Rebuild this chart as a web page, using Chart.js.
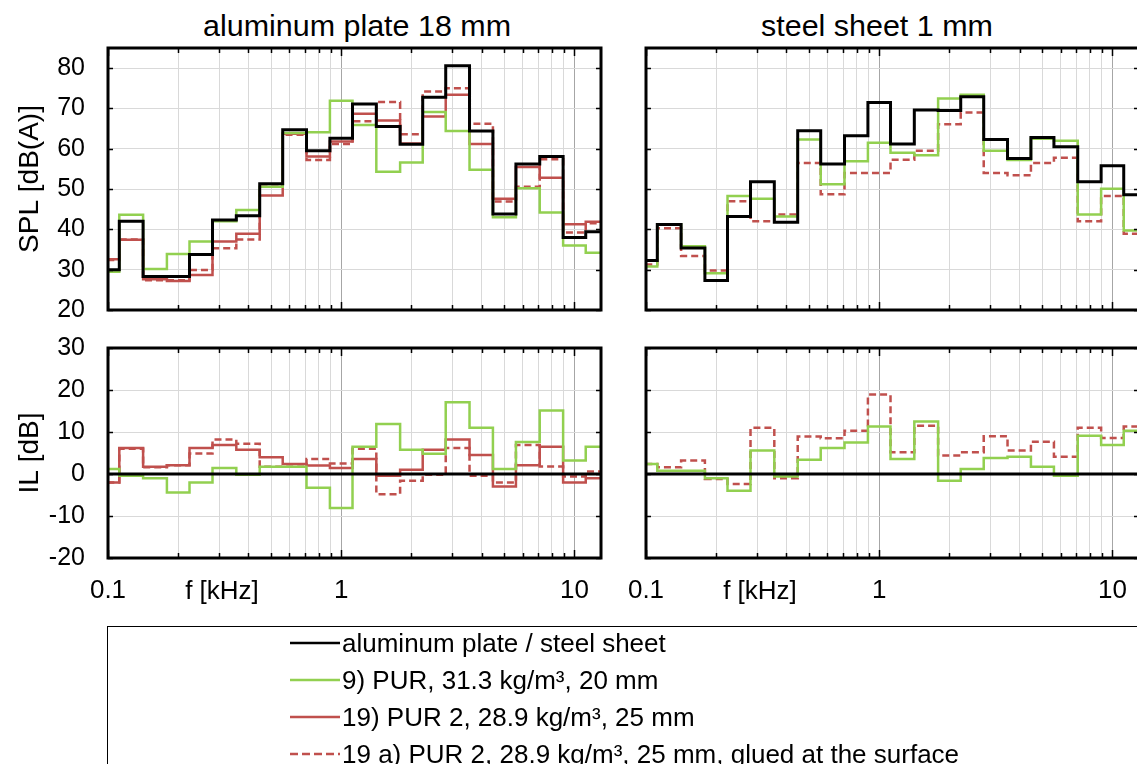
<!DOCTYPE html>
<html>
<head>
<meta charset="utf-8">
<script src="https://cdn.jsdelivr.net/npm/chart.js@4.4.1/dist/chart.umd.min.js"></script>
<style>
  body { margin: 0; width: 1137px; height: 764px; overflow: hidden; background: #fff; position: relative;
         font-family: "Liberation Sans", Arial, sans-serif; color: #000; }
  .panel { position: absolute; }
  .title { position: absolute; top: 11px; font-size: 29px; line-height: 30px; white-space: nowrap;
           transform: translateX(-50%) scaleX(1.05); }
  .flabel { position: absolute; top: 575px; font-size: 26px; line-height: 30px; white-space: nowrap;
            transform: translateX(-50%); }
  #legend { position: absolute; left: 107px; top: 626px; width: 1100px; height: 200px;
            border: 1.5px solid #000; box-sizing: border-box; }
  .item { position: absolute; left: 182px; height: 30px; display: flex; align-items: center; white-space: nowrap; }
  .item span { font-size: 26px; display: inline-block; margin-left: 2px; }
</style>
</head>
<body>
<div class="title" style="left:357px">aluminum plate 18 mm</div>
<div class="title" style="left:877px">steel sheet 1 mm</div>
<div class="panel" style="left:0;top:0"><canvas id="splAlu" width="620" height="350"></canvas></div>
<div class="panel" style="left:538px;top:0"><canvas id="splSteel" width="620" height="350"></canvas></div>
<div class="panel" style="left:0;top:308px"><canvas id="ilAlu" width="620" height="312"></canvas></div>
<div class="panel" style="left:538px;top:308px"><canvas id="ilSteel" width="620" height="312"></canvas></div>
<div class="flabel" style="left:222px">f [kHz]</div>
<div class="flabel" style="left:760px">f [kHz]</div>
<div id="legend"></div>

<script>
// third-octave band centres, kHz
const bands = [0.1, 0.125, 0.16, 0.2, 0.25, 0.315, 0.4, 0.5, 0.63, 0.8, 1, 1.25, 1.6, 2, 2.5, 3.15, 4, 5, 6.3, 8, 10, 12.5];
const xTicks = [0.1, 0.2, 0.3, 0.4, 0.5, 0.6, 0.7, 0.8, 0.9, 1, 2, 3, 4, 5, 6, 7, 8, 9, 10];
const xLabels = [0.1, 1, 10];
const splTicks = [20, 30, 40, 50, 60, 70, 80];
const ilTicks = [-20, -10, 0, 10, 20, 30];

const seriesNames = [
  'aluminum plate / steel sheet',
  '9) PUR, 31.3 kg/m³, 20 mm',
  '19) PUR 2, 28.9 kg/m³, 25 mm',
  '19 a) PUR 2, 28.9 kg/m³, 25 mm, glued at the surface'
];

// SPL [dB(A)], aluminum plate 18 mm
const splAluBare  = [30.0, 42.0, 28.3, 28.3, 33.8, 42.3, 43.4, 51.3, 64.7, 59.5, 62.6, 71.1, 65.5, 61.1, 72.8, 80.6, 64.4, 43.8, 56.2, 58.1, 38.0, 39.4];
const splAluPur9  = [29.5, 43.6, 30.2, 33.9, 37.0, 42.0, 44.8, 50.6, 63.9, 64.1, 71.9, 65.9, 54.3, 56.6, 69.1, 64.4, 54.8, 43.0, 50.2, 44.2, 36.0, 34.2];
const splAluPur19 = [32.6, 37.4, 27.6, 27.2, 28.7, 37.0, 38.9, 48.4, 63.7, 58.1, 61.8, 68.7, 67.0, 61.3, 68.0, 73.4, 61.2, 47.6, 55.5, 52.8, 41.3, 41.9];
const splAluPur19a = [32.4, 37.5, 27.4, 27.4, 29.9, 35.3, 37.5, 50.6, 63.5, 57.2, 61.2, 66.8, 71.6, 63.6, 74.2, 75.0, 66.2, 46.9, 50.6, 57.4, 39.2, 41.5];

// SPL [dB(A)], steel sheet 1 mm
const splSteelBare  = [32.3, 41.2, 35.4, 27.3, 43.2, 51.8, 41.8, 64.5, 56.2, 63.2, 71.5, 61.2, 69.6, 69.5, 72.9, 62.3, 57.6, 62.8, 60.5, 51.8, 55.8, 48.6];
const splSteelPur9  = [30.8, 41.2, 35.8, 29.1, 48.3, 47.6, 43.2, 62.3, 51.2, 56.9, 61.5, 59.0, 58.4, 72.5, 73.4, 59.5, 57.2, 62.5, 62.0, 43.7, 50.1, 39.7];
const splSteelPur19a = [31.3, 40.3, 33.4, 29.8, 47.0, 42.0, 43.7, 56.5, 48.7, 54.0, 54.0, 57.3, 59.5, 66.1, 69.0, 54.0, 53.4, 56.5, 57.8, 42.0, 48.3, 38.9];

// IL [dB], aluminum plate 18 mm
const ilAluBare  = [0, 0, 0, 0, 0, 0, 0, 0, 0, 0, 0, 0, 0, 0, 0, 0, 0, 0, 0, 0, 0, 0];
const ilAluPur9  = [1.2, -0.4, -1.0, -4.4, -2.0, 1.4, -0.2, 1.7, 1.7, -3.3, -8.1, 6.5, 11.9, 5.8, 4.8, 17.1, 11.0, 1.2, 7.6, 15.1, 3.2, 6.5];
const ilAluPur19 = [-2.0, 6.2, 1.7, 2.1, 6.2, 6.9, 5.8, 4.0, 2.4, 2.0, 1.4, 3.6, -0.4, 1.0, 5.8, 8.2, 4.5, -3.0, 2.1, 6.5, -2.0, -1.0];
const ilAluPur19a = [-2.0, 6.0, 1.6, 2.1, 4.9, 8.2, 7.2, 1.7, 1.7, 3.6, 2.5, 6.0, -4.8, -1.6, -0.2, 6.2, -0.4, -2.0, 6.9, 1.8, -0.6, 0.6];

// IL [dB], steel sheet 1 mm
const ilSteelBare  = [0, 0, 0, 0, 0, 0, 0, 0, 0, 0, 0, 0, 0, 0, 0, 0, 0, 0, 0, 0, 0, 0];
const ilSteelPur9  = [2.4, 0.8, 0.8, -1.0, -4.0, 5.6, -0.6, 3.4, 6.2, 7.5, 11.3, 3.6, 12.5, -1.6, 1.2, 3.8, 4.1, 1.7, -0.4, 9.1, 6.9, 10.3];
const ilSteelPur19a = [2.4, 1.6, 3.2, -1.2, -2.4, 11.0, -1.0, 8.9, 8.5, 10.3, 18.9, 5.2, 11.5, 4.4, 5.2, 9.0, 5.6, 7.7, 4.1, 11.0, 8.6, 11.3];

const BLACK = '#000000', GREEN = '#92d050', RED = '#c0504d';
const styles = [
  { color: BLACK, width: 3, dash: [] },
  { color: GREEN, width: 2.5, dash: [] },
  { color: RED, width: 2.5, dash: [] },
  { color: RED, width: 2.5, dash: [7, 4] }
];

// band values -> step points on the band edges (value held up to next edge)
function steps(values) {
  const k = Math.pow(2, 1 / 6);
  const pts = values.map((v, i) => ({ x: i === 0 ? bands[0] / k : Math.sqrt(bands[i - 1] * bands[i]), y: v }));
  pts.push({ x: bands[bands.length - 1] * k, y: values[values.length - 1] });
  return pts;
}

function ds(values, s) {
  return { data: steps(values), borderColor: s.color, borderWidth: s.width, borderDash: s.dash,
           stepped: 'before', pointRadius: 0, fill: false, borderCapStyle: 'butt' };
}

const framePlugin = {
  id: 'frame',
  afterDatasetsDraw(chart) {
    const { ctx, chartArea: a, scales: { x, y } } = chart;
    ctx.save();
    ctx.strokeStyle = '#000';
    ctx.lineWidth = 1.5;
    ctx.beginPath();
    x.ticks.forEach(t => {
      const px = Math.round(x.getPixelForValue(t.value)) + 0.5;
      const len = t.major ? 8 : 5;
      ctx.moveTo(px, a.top); ctx.lineTo(px, a.top + len);
      ctx.moveTo(px, a.bottom); ctx.lineTo(px, a.bottom - len);
    });
    y.ticks.forEach(t => {
      const py = Math.round(y.getPixelForValue(t.value)) + 0.5;
      ctx.moveTo(a.left, py); ctx.lineTo(a.left + 5, py);
      ctx.moveTo(a.right, py); ctx.lineTo(a.right - 5, py);
    });
    ctx.stroke();
    ctx.lineWidth = 3;
    ctx.strokeRect(a.left, a.top, a.right - a.left, a.bottom - a.top);
    ctx.restore();
  }
};

function makeChart(id, datasets, o) {
  new Chart(document.getElementById(id), {
    type: 'line',
    data: { datasets: datasets },
    options: {
      responsive: false,
      animation: false,
      events: [],
      layout: { padding: { top: o.padTop, right: 19, left: 0, bottom: 0 } },
      plugins: { legend: { display: false }, tooltip: { enabled: false } },
      scales: {
        x: {
          type: 'logarithmic', min: 0.1, max: 13,
          afterBuildTicks: s => { s.ticks = xTicks.map(v => ({ value: v, major: xLabels.includes(v) })); },
          afterFit: s => { s.height = o.xHeight; },
          border: { display: false },
          grid: { color: c => (c.tick && (c.tick.value === 1 || c.tick.value === 10)) ? '#a6a6a6' : '#d9d9d9',
                  lineWidth: 1, drawTicks: false },
          ticks: { display: o.xLabels, autoSkip: false, maxRotation: 0, padding: 17, color: '#000',
                   font: { family: 'Liberation Sans', size: 26 },
                   callback: v => xLabels.includes(v) ? String(v) : '' }
        },
        y: {
          min: o.yMin, max: o.yMax,
          afterBuildTicks: s => { s.ticks = o.yTicks.map(v => ({ value: v })); },
          afterFit: s => { s.width = 108; },
          border: { display: false },
          grid: { color: '#d9d9d9', lineWidth: 1, drawTicks: false },
          ticks: { display: o.yLabels, padding: 23, color: '#000',
                   font: { family: 'Liberation Sans', size: 25 } },
          title: { display: !!o.yTitle, text: o.yTitle || '', color: '#000',
                   font: { family: 'Liberation Sans', size: 28 }, padding: { top: 13, bottom: 0 } }
        }
      }
    },
    plugins: [framePlugin]
  });
}

// chart areas: SPL 48..310 px, IL 348..558 px (canvas-local offsets below)
const splOpts = { padTop: 48, xHeight: 40, yMin: 20, yMax: 85, yTicks: splTicks, xLabels: false };
const ilOpts = { padTop: 40, xHeight: 62, yMin: -20, yMax: 30, yTicks: ilTicks, xLabels: true };

makeChart('splAlu', [ds(splAluBare, styles[0]), ds(splAluPur9, styles[1]), ds(splAluPur19, styles[2]), ds(splAluPur19a, styles[3])],
  Object.assign({}, splOpts, { yLabels: true, yTitle: 'SPL [dB(A)]' }));
makeChart('splSteel', [ds(splSteelBare, styles[0]), ds(splSteelPur9, styles[1]), ds(splSteelPur19a, styles[3])],
  Object.assign({}, splOpts, { yLabels: false }));
makeChart('ilAlu', [ds(ilAluBare, styles[0]), ds(ilAluPur9, styles[1]), ds(ilAluPur19, styles[2]), ds(ilAluPur19a, styles[3])],
  Object.assign({}, ilOpts, { yLabels: true, yTitle: 'IL [dB]' }));
makeChart('ilSteel', [ds(ilSteelBare, styles[0]), ds(ilSteelPur9, styles[1]), ds(ilSteelPur19a, styles[3])],
  Object.assign({}, ilOpts, { yLabels: false }));

// legend
const legend = document.getElementById('legend');
seriesNames.forEach((name, i) => {
  const s = styles[i];
  const item = document.createElement('div');
  item.className = 'item';
  item.style.top = (1 + i * 37) + 'px';
  item.innerHTML = '<svg width="50" height="10"><line x1="0" y1="5" x2="50" y2="5" stroke="' + s.color +
    '" stroke-width="2.5" stroke-dasharray="' + (s.dash.length ? '8,4' : 'none') + '"/></svg><span></span>';
  item.querySelector('span').textContent = name;
  legend.appendChild(item);
});
</script>
</body>
</html>
